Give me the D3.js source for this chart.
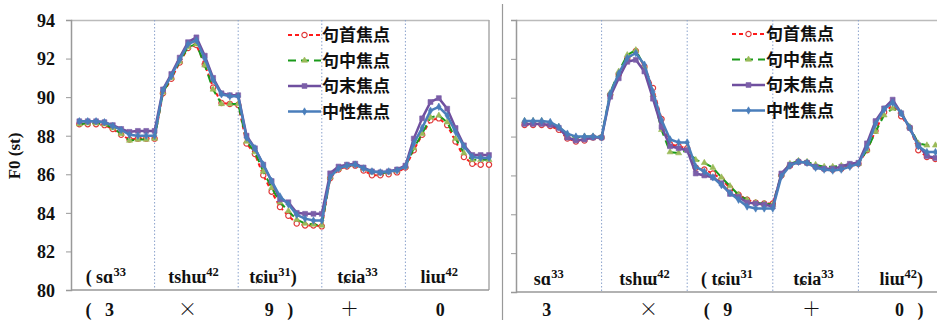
<!DOCTYPE html>
<html lang="zh">
<head>
<meta charset="utf-8">
<title>F0 焦点</title>
<style>
  body { margin: 0; background: #fff; }
  svg { display: block; }
  .tick text { font-family: 'Liberation Serif', 'Times New Roman', serif; font-weight: bold; font-size: 18px; fill: #111; }
  .syl { font-family: 'Liberation Serif', 'DejaVu Serif', serif; font-weight: bold; font-size: 18px; fill: #111; }
  .dig { font-family: 'Liberation Serif', serif; font-weight: bold; font-size: 18px; fill: #111; }
  .sym { font-family: 'Noto Sans CJK SC', sans-serif; font-weight: 300; font-size: 19px; fill: #111; }
  .leg { font-family: 'Noto Sans CJK SC', sans-serif; font-weight: bold; font-size: 17px; fill: #111; }
  .ytitle { font-family: 'Liberation Serif', serif; font-weight: bold; font-size: 17px; fill: #111; }
</style>
</head>
<body>
<script src="https://cdn.jsdelivr.net/npm/d3@7"></script>
<script>
// legend names, in drawing order
var seriesNames = ['句首焦点', '句中焦点', '句末焦点', '中性焦点'];

// syllable labels: base|superscript|tail
var syllablesLeft = ['( sɑ|33|', 'tshɯ|42|', 'tɕiu|31|)', 'tɕia|33|', 'liɯ|42|'];
var digitsLeft = ['(\u00a0\u00a0\u00a03', '×', '9\u00a0\u00a0\u00a0)', '＋', '0'];
var syllablesRight = ['sɑ|33|', 'tshɯ|42|', '( tɕiu|31|', 'tɕia|33|', 'liɯ|42|)'];
var digitsRight = ['3', '×', '(\u00a0\u00a0\u00a09', '＋', '0\u00a0\u00a0\u00a0)'];

var yTicks = [80, 82, 84, 86, 88, 90, 92, 94];

// left figure
var leftInitial = [
  88.6, 88.6, 88.6, 88.55, 88.35, 88.05, 87.8, 87.85, 87.85, 87.85,
  90.2, 90.95, 91.8, 92.55, 92.7, 91.7, 90.5, 89.7, 89.65, 89.6,
  87.6, 87.05, 85.95, 85.1, 84.3, 83.85, 83.45, 83.35, 83.35, 83.3,
  85.8, 86.25, 86.4, 86.45, 86.2, 85.95, 85.95, 86.0, 86.1, 86.35,
  87.25, 88.05, 88.8, 88.9, 88.55, 87.7, 86.9, 86.55, 86.5, 86.5];
var leftMedial = [
  88.6, 88.65, 88.65, 88.6, 88.4, 88.1, 87.75, 87.8, 87.8, 87.85,
  90.25, 91.0, 91.85, 92.6, 92.75, 91.65, 90.4, 89.65, 89.65, 89.65,
  87.7, 87.15, 86.15, 85.3, 84.55, 84.1, 83.65, 83.45, 83.4, 83.35,
  85.85, 86.3, 86.45, 86.5, 86.3, 86.1, 86.05, 86.1, 86.2, 86.4,
  87.35, 88.1, 88.95, 89.05, 88.7, 87.85, 87.1, 86.75, 86.75, 86.75];
var leftFinal = [
  88.75, 88.75, 88.75, 88.7, 88.55, 88.35, 88.2, 88.25, 88.25, 88.25,
  90.4, 91.2, 92.05, 92.85, 93.1, 92.15, 91.0, 90.2, 90.1, 90.1,
  88.0, 87.35, 86.5, 85.65, 84.7, 84.55, 84.0, 83.95, 83.95, 83.95,
  86.05, 86.4, 86.5, 86.55, 86.35, 86.15, 86.1, 86.15, 86.25, 86.45,
  87.85, 88.9, 89.75, 89.95, 89.4, 88.4, 87.5, 87.0, 87.0, 87.0];
var leftNeutral = [
  88.75, 88.75, 88.75, 88.7, 88.5, 88.3, 88.05, 88.0, 88.0, 88.0,
  90.35, 91.1, 91.95, 92.75, 92.95, 92.0, 90.9, 90.15, 90.05, 90.05,
  87.9, 87.35, 86.5, 85.65, 84.85, 84.45, 83.9, 83.7, 83.6, 83.6,
  85.85, 86.3, 86.45, 86.5, 86.3, 86.15, 86.1, 86.15, 86.2, 86.4,
  87.6, 88.4, 89.3, 89.5, 89.05, 88.2, 87.45, 86.9, 86.85, 86.85];

// right figure
var rightInitial = [
  88.6, 88.6, 88.6, 88.55, 88.35, 87.9, 87.75, 87.8, 87.95, 87.95,
  90.15, 91.2, 92.0, 92.4, 91.6, 90.5, 88.9, 87.6, 87.5, 87.4,
  86.4, 86.3, 86.1, 85.8, 85.35, 85.0, 84.75, 84.6, 84.55, 84.55,
  86.0, 86.5, 86.7, 86.65, 86.45, 86.35, 86.3, 86.35, 86.5, 86.6,
  87.3, 88.3, 89.25, 89.6, 89.05, 88.45, 87.3, 86.95, 86.85, 86.8];
var rightMedial = [
  88.8, 88.8, 88.8, 88.7, 88.5, 88.1, 87.95, 88.0, 88.0, 88.0,
  90.25, 91.35, 92.2, 92.45, 91.6, 90.15, 88.35, 87.2, 87.15, 87.3,
  86.8, 86.65, 86.4, 85.9, 85.45, 85.0, 84.75, 84.6, 84.55, 84.5,
  86.05, 86.6, 86.75, 86.7, 86.55, 86.45, 86.45, 86.5, 86.55, 86.6,
  87.3, 88.25, 89.1, 89.45, 89.2, 88.5, 87.65, 87.55, 87.55, 87.5];
var rightFinal = [
  88.65, 88.65, 88.65, 88.6, 88.45, 87.95, 87.8, 87.85, 87.95, 87.95,
  90.05, 91.0, 91.85, 91.95, 91.35, 89.95, 88.5, 87.5, 87.4, 87.3,
  86.1, 86.0, 85.9, 85.6, 85.05, 84.9, 84.6, 84.55, 84.5, 84.4,
  86.1, 86.55, 86.7, 86.65, 86.45, 86.35, 86.35, 86.45, 86.6, 86.65,
  87.65, 88.8, 89.45, 89.9, 89.2, 88.45, 87.55, 87.0, 86.9, 86.85];
var rightNeutral = [
  88.8, 88.8, 88.8, 88.75, 88.5, 88.15, 88.0, 88.0, 88.0, 87.95,
  90.2, 91.25, 92.05, 92.3, 91.7, 90.3, 88.85, 87.85, 87.7, 87.7,
  86.45, 86.2, 85.9, 85.5, 85.1, 84.75, 84.4, 84.3, 84.3, 84.3,
  85.95, 86.5, 86.7, 86.65, 86.4, 86.3, 86.25, 86.3, 86.45, 86.6,
  87.45, 88.65, 89.4, 89.75, 89.2, 88.45, 87.5, 87.2, 87.2, 87.2];

var styles = [
  { line: '#ff1a1a', width: 2, dash: '4,3', marker: 'circle', fill: '#fff', stroke: '#e03a3a' },
  { line: '#1a9a1a', width: 2, dash: '8,5', marker: 'triangle', fill: '#9bbb59', stroke: '#9bbb59' },
  { line: '#6f4f9f', width: 2.5, dash: null, marker: 'square', fill: '#7b5ea8', stroke: '#7b5ea8' },
  { line: '#4a7ebb', width: 2.5, dash: null, marker: 'diamond', fill: '#4a7ebb', stroke: '#4a7ebb' }
];

var svg = d3.select('body').append('svg')
  .attr('width', 937).attr('height', 320);

// divider between the two figures
svg.append('line').attr('x1', 502.5).attr('x2', 502.5).attr('y1', 4).attr('y2', 320)
  .attr('stroke', '#999').attr('stroke-width', 1.2);

function symbolFor(name) {
  if (name === 'circle') return d3.symbol().type(d3.symbolCircle).size(22)();
  if (name === 'triangle') return d3.symbol().type(d3.symbolTriangle).size(16)();
  if (name === 'square') return d3.symbol().type(d3.symbolSquare).size(24)();
  return d3.symbol().type(d3.symbolDiamond).size(16)();
}

function drawPanel(opt) {
  var x = d3.scaleLinear().domain([0, 50]).range([opt.left, opt.right]);
  var y = d3.scaleLinear().domain([80, 94]).range([opt.bottom, opt.top]);
  var g = svg.append('g');

  // frame
  g.append('line').attr('x1', opt.left).attr('x2', Math.min(opt.right, 937)).attr('y1', opt.top + 0.5).attr('y2', opt.top + 0.5)
    .attr('stroke', '#bbb').attr('stroke-width', 1.5);
  if (opt.right < 937) {
    g.append('line').attr('x1', opt.right).attr('x2', opt.right).attr('y1', opt.top).attr('y2', opt.bottom)
      .attr('stroke', '#aaa').attr('stroke-width', 1.5);
  }

  // syllable separators
  [10, 20, 30, 40].forEach(function(k) {
    g.append('line').attr('x1', x(k)).attr('x2', x(k)).attr('y1', opt.top).attr('y2', opt.bottom)
      .attr('stroke', '#8aa2cc').attr('stroke-width', 1).attr('stroke-dasharray', '1.5,2');
  });

  // axes
  var yAxis = d3.axisLeft(y).tickValues(yTicks).tickSize(5).tickPadding(11);
  if (!opt.labels) yAxis.tickFormat('');
  var ya = g.append('g').attr('transform', 'translate(' + opt.left + ',0)').call(yAxis);
  ya.select('.domain').attr('stroke', '#999').attr('stroke-width', 1.5);
  ya.selectAll('.tick line').attr('stroke', '#999');
  ya.selectAll('.tick text').attr('dy', '0.35em');

  g.append('line').attr('x1', opt.left).attr('x2', Math.min(opt.right, 937)).attr('y1', opt.bottom).attr('y2', opt.bottom)
    .attr('stroke', '#999').attr('stroke-width', 1.5);

  // series
  var line = d3.line().x(function(d, i) { return x(i + 1); }).y(function(d) { return y(d); });
  opt.series.forEach(function(vals, s) {
    var st = styles[s];
    g.append('path').datum(vals).attr('d', line)
      .attr('fill', 'none').attr('stroke', st.line).attr('stroke-width', st.width)
      .attr('stroke-dasharray', st.dash).attr('stroke-linejoin', 'round');
    g.selectAll('.m' + s).data(vals).enter().append('path')
      .attr('class', 'm' + s)
      .attr('d', symbolFor(st.marker))
      .attr('transform', function(d, i) { return 'translate(' + x(i + 1) + ',' + y(d) + ')'; })
      .attr('fill', st.fill).attr('stroke', st.stroke).attr('stroke-width', st.marker === 'circle' ? 1.2 : 0.6);
  });

  // syllable labels inside the plot
  opt.syllables.forEach(function(s, i) {
    var parts = s.split('|');
    var t = g.append('text').attr('class', 'syl')
      .attr('x', x(i * 10 + 5) + opt.sylShift[i]).attr('y', opt.bottom - 7)
      .attr('text-anchor', 'middle');
    t.append('tspan').text(parts[0]);
    t.append('tspan').attr('font-size', '12.5px').attr('dy', -7).text(parts[1]);
    if (parts[2]) t.append('tspan').attr('dy', 7).text(parts[2]);
  });

  // digit row below
  opt.digits.forEach(function(s, i) {
    var isSym = (s === '×' || s === '＋');
    g.append('text').attr('class', isSym ? 'sym' : 'dig')
      .attr('x', x(i * 10 + 5) + opt.digShift[i]).attr('y', 316)
      .attr('text-anchor', 'middle').text(s);
  });

  // legend
  var lg = g.append('g').attr('transform', 'translate(' + opt.legX + ',' + opt.legY + ')');
  seriesNames.forEach(function(name, s) {
    var st = styles[s];
    var row = lg.append('g').attr('transform', 'translate(0,' + (s * 25.5) + ')');
    row.append('line').attr('x1', 0).attr('x2', 33).attr('y1', 0).attr('y2', 0)
      .attr('stroke', st.line).attr('stroke-width', st.width).attr('stroke-dasharray', st.dash);
    row.append('path').attr('d', symbolFor(st.marker)).attr('transform', 'translate(16.5,0)')
      .attr('fill', st.fill).attr('stroke', st.stroke).attr('stroke-width', st.marker === 'circle' ? 1.2 : 0.6);
    row.append('text').attr('class', 'leg').attr('x', 34).attr('y', 0).attr('dy', '0.36em').text(name);
  });
}

drawPanel({
  left: 71, right: 489, top: 20, bottom: 290, labels: true,
  series: [leftInitial, leftMedial, leftFinal, leftNeutral],
  syllables: syllablesLeft, digits: digitsLeft,
  sylShift: [-7, -3, -7, -6, -8], digShift: [-13, -9, -1, -14, -7],
  legX: 288, legY: 35
});

drawPanel({
  left: 516, right: 944, top: 20, bottom: 292, labels: false,
  series: [rightInitial, rightMedial, rightFinal, rightNeutral],
  syllables: syllablesRight, digits: digitsRight,
  sylShift: [-10, 0, -3, -2, 0], digShift: [-12, 4, -12, -4, 8],
  legX: 732, legY: 34
});

// y axis title
svg.append('text').attr('class', 'ytitle')
  .attr('transform', 'translate(20,156) rotate(-90)')
  .attr('text-anchor', 'middle').text('F0 (st)');
</script>
</body>
</html>
